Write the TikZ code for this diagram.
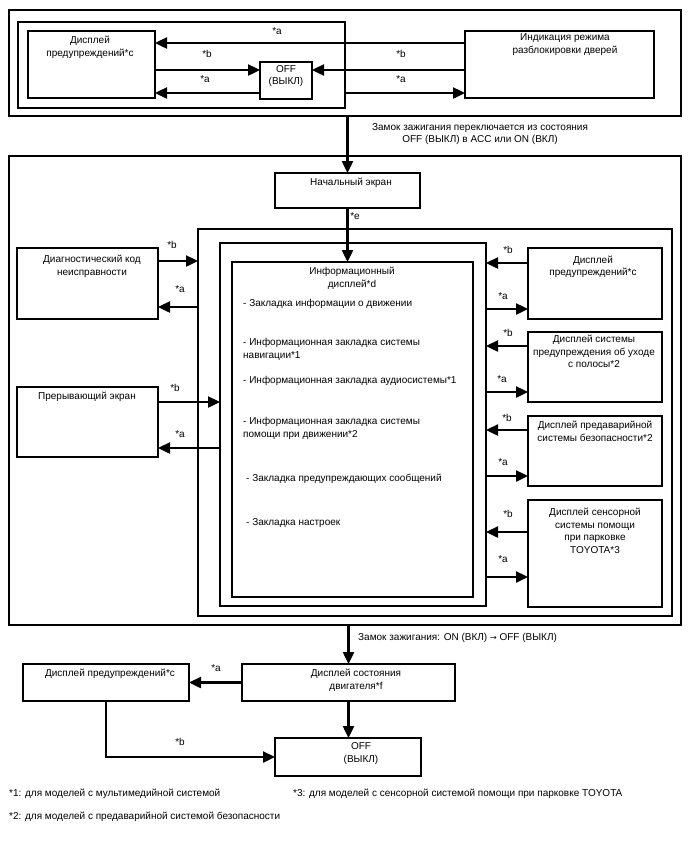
\documentclass[tikz,border=0pt]{standalone}
\usepackage{fontspec}
\setmainfont{Liberation Sans}
\newfontfamily\arrfont{DejaVu Sans}
\usetikzlibrary{arrows.meta}
\newcommand\fsz{\fontsize{10}{12.5}\selectfont}
\tikzset{
  box/.style={draw, line width=1.5pt, inner sep=0pt, outer sep=0pt},
  txt/.style={inner sep=0pt, align=center, font=\fsz, yshift=-1.2pt},
  ltxt/.style={inner sep=0pt, align=left, font=\fsz, anchor=west, yshift=-1.2pt},
  lbl/.style={inner sep=0pt, font=\fsz, yshift=-1pt},
  arr/.style={line width=2.4pt, -{Triangle[length=12pt,width=11pt]}},
}
\begin{document}
\begin{tikzpicture}[x=1pt,y=-1pt]
\useasboundingbox (0,0) rectangle (688,852);
% ---------- top section
\node[box, minimum width=672pt, minimum height=106pt] (topOuter) at (345,63) {};
\node[box, minimum width=327pt, minimum height=86pt] (topInner) at (181.5,65) {};
\node[box, minimum width=127pt, minimum height=67pt] (warnA) at (91.5,64.5) {};
\node[box, minimum width=52pt, minimum height=37pt] (offA) at (286,80.5) {};
\node[box, minimum width=189pt, minimum height=67pt] (unlock) at (559.5,64.5) {};
\node[txt] (tWarnA) at (90,46) {Дисплей\\предупреждений*c};
\node[txt] (tUnlock) at (565,43.5) {Индикация режима\\разблокировки дверей};
\node[txt] (tOffA) at (286,75) {OFF\\(ВЫКЛ)};
\draw[arr] (unlock.west |- 0,43) -- (warnA.east |- 0,43);
\draw[arr] (warnA.east |- 0,70) -- (offA.west |- 0,70);
\draw[arr] (offA.west |- 0,93) -- (warnA.east |- 0,93);
\draw[arr] (unlock.west |- 0,70) -- (offA.east |- 0,70);
\draw[arr] (topInner.east |- 0,93) -- (unlock.west |- 0,93);
\node[lbl] (la1) at (277,30) {*a};
\node[lbl] (lb1) at (207,53) {*b};
\node[lbl] (lb2) at (401,53) {*b};
\node[lbl] (la2) at (205,78) {*a};
\node[lbl] (la3) at (401,78) {*a};
% ---------- transition 1
\node[box, minimum width=145pt, minimum height=35pt] (start) at (347.5,190.5) {};
\node[txt] (tStart) at (351,182) {Начальный экран};
\draw[arr] (start.north |- topOuter.south) -- (start.north);
\node[txt] (cap1) at (480,133) {Замок зажигания переключается из состояния\\OFF (ВЫКЛ) в ACC или ON (ВКЛ)};
% ---------- main section
\node[box, minimum width=672pt, minimum height=469pt] (bigOuter) at (345,390.5) {};
\node[box, minimum width=474pt, minimum height=387pt] (layerA) at (435,422.5) {};
\node[box, minimum width=266pt, minimum height=363pt] (layerB) at (353,424.5) {};
\node[box, minimum width=241pt, minimum height=335pt] (info) at (352.5,429.5) {};
\node[box, minimum width=141pt, minimum height=71pt] (dtc) at (87.5,283.5) {};
\node[box, minimum width=141pt, minimum height=70pt] (intr) at (87.5,422) {};
\node[box, minimum width=134pt, minimum height=71pt] (rA) at (595,283.5) {};
\node[box, minimum width=134pt, minimum height=70pt] (rB) at (595,367) {};
\node[box, minimum width=134pt, minimum height=70pt] (rC) at (595,451) {};
\node[box, minimum width=134pt, minimum height=107pt] (rD) at (595,553.5) {};
\draw[arr] (start.south) -- (start.south |- info.north);
\node[lbl] (le) at (355,215) {*e};
\node[txt] (tInfo) at (352,277) {Информационный\\дисплей*d};
\node[ltxt] (iA) at (243,303) {- Закладка информации о движении};
\node[ltxt] (iB) at (243,348) {- Информационная закладка системы\\навигации*1};
\node[ltxt] (iC) at (243,380) {- Информационная закладка аудиосистемы*1};
\node[ltxt] (iD) at (243,427) {- Информационная закладка системы\\помощи при движении*2};
\node[ltxt] (iE) at (246,478) {- Закладка предупреждающих сообщений};
\node[ltxt] (iF) at (246,522) {- Закладка настроек};
\node[txt] (tDtc) at (92,265) {Диагностический код\\неисправности};
\node[txt] (tIntr) at (87,396) {Прерывающий экран};
\node[txt] (tRA) at (593,265.5) {Дисплей\\предупреждений*c};
\node[txt] (tRB) at (594,350.5) {Дисплей системы\\предупреждения об уходе\\с полосы*2};
\node[txt] (tRC) at (595,430) {Дисплей предаварийной\\системы безопасности*2};
\node[txt] (tRD) at (595,529.5) {Дисплей сенсорной\\системы помощи\\при парковке\\TOYOTA*3};
% left arrows
\draw[arr] (dtc.east |- 0,261) -- (layerA.west |- 0,261);
\draw[arr] (layerA.west |- 0,307) -- (dtc.east |- 0,307);
\draw[arr] (intr.east |- 0,402) -- (layerB.west |- 0,402);
\draw[arr] (layerB.west |- 0,448) -- (intr.east |- 0,448);
\node[lbl] (lb3) at (172,244) {*b};
\node[lbl] (la4) at (180,288) {*a};
\node[lbl] (lb4) at (175,387) {*b};
\node[lbl] (la5) at (180,433) {*a};
% right arrows
\draw[arr] (rA.west |- 0,263) -- (layerB.east |- 0,263);
\draw[arr] (layerB.east |- 0,309) -- (rA.west |- 0,309);
\draw[arr] (rB.west |- 0,346) -- (layerB.east |- 0,346);
\draw[arr] (layerB.east |- 0,392) -- (rB.west |- 0,392);
\draw[arr] (rC.west |- 0,430) -- (layerB.east |- 0,430);
\draw[arr] (layerB.east |- 0,476) -- (rC.west |- 0,476);
\draw[arr] (rD.west |- 0,532) -- (layerB.east |- 0,532);
\draw[arr] (layerB.east |- 0,577) -- (rD.west |- 0,577);
\node[lbl] (lb5) at (508,249) {*b};
\node[lbl] (la6) at (503,295) {*a};
\node[lbl] (lb6) at (508,332) {*b};
\node[lbl] (la7) at (502,378) {*a};
\node[lbl] (lb7) at (507,417) {*b};
\node[lbl] (la8) at (503,461) {*a};
\node[lbl] (lb8) at (508,513) {*b};
\node[lbl] (la9) at (503,558) {*a};
% ---------- bottom section
\node[box, minimum width=213pt, minimum height=37pt] (engine) at (348.5,682.5) {};
\node[box, minimum width=166pt, minimum height=37pt] (warnB) at (106,682.5) {};
\node[box, minimum width=146pt, minimum height=38pt] (offB) at (348,757) {};
\draw[arr] (engine.north |- bigOuter.south) -- (engine.north);
\node[ltxt] (cap2) at (358,637) {Замок зажигания: ON (ВКЛ) {\arrfont\fontsize{8}{9}\selectfont →} OFF (ВЫКЛ)};
\node[txt] (tEngine) at (356,679) {Дисплей состояния\\двигателя*f};
\node[txt] (tWarnB) at (110,673) {Дисплей предупреждений*c};
\node[txt] (tOffB) at (361,752.5) {OFF\\(ВЫКЛ)};
\draw[arr] (engine.west) -- (warnB.east);
\draw[arr] (engine.south) -- (engine.south |- offB.north);
\draw[arr] (warnB.south) |- (offB.west);
\node[lbl] (la10) at (216,667) {*a};
\node[lbl] (lb9) at (180,741) {*b};
% ---------- footnotes
\node[ltxt] (fn1) at (9,793) {*1: для моделей с мультимедийной системой};
\node[ltxt] (fn3) at (293,793) {*3: для моделей с сенсорной системой помощи при парковке TOYOTA};
\node[ltxt] (fn2) at (9,816) {*2: для моделей с предаварийной системой безопасности};
\end{tikzpicture}
\end{document}
